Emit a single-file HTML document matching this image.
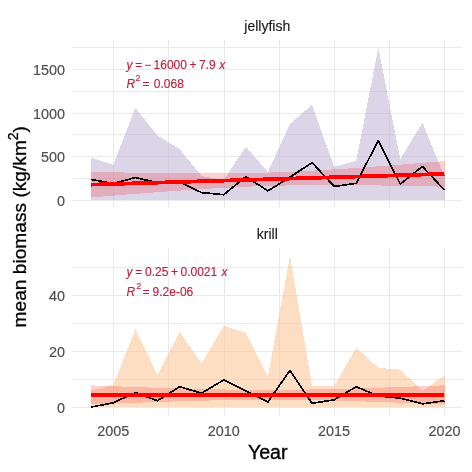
<!DOCTYPE html>
<html><head><meta charset="utf-8"><style>
html,body{margin:0;padding:0;background:#fff;width:472px;height:472px;overflow:hidden}
svg{display:block}
text{font-family:"Liberation Sans",sans-serif}
</style></head><body>
<svg style="will-change:transform" width="472" height="472" viewBox="0 0 472 472">
<rect width="472" height="472" fill="#fff"/>
<line x1="71.90" y1="178.50" x2="462.70" y2="178.50" stroke="#EAEAEA" stroke-width="1"/>
<line x1="71.90" y1="134.50" x2="462.70" y2="134.50" stroke="#EAEAEA" stroke-width="1"/>
<line x1="71.90" y1="91.50" x2="462.70" y2="91.50" stroke="#EAEAEA" stroke-width="1"/>
<line x1="71.90" y1="47.50" x2="462.70" y2="47.50" stroke="#EAEAEA" stroke-width="1"/>
<line x1="71.90" y1="200.50" x2="462.70" y2="200.50" stroke="#EAEAEA" stroke-width="1"/>
<line x1="71.90" y1="156.50" x2="462.70" y2="156.50" stroke="#EAEAEA" stroke-width="1"/>
<line x1="71.90" y1="113.50" x2="462.70" y2="113.50" stroke="#EAEAEA" stroke-width="1"/>
<line x1="71.90" y1="69.50" x2="462.70" y2="69.50" stroke="#EAEAEA" stroke-width="1"/>
<line x1="168.50" y1="39.85" x2="168.50" y2="207.70" stroke="#EAEAEA" stroke-width="1"/>
<line x1="279.50" y1="39.85" x2="279.50" y2="207.70" stroke="#EAEAEA" stroke-width="1"/>
<line x1="389.50" y1="39.85" x2="389.50" y2="207.70" stroke="#EAEAEA" stroke-width="1"/>
<line x1="113.50" y1="39.85" x2="113.50" y2="207.70" stroke="#EAEAEA" stroke-width="1"/>
<line x1="224.50" y1="39.85" x2="224.50" y2="207.70" stroke="#EAEAEA" stroke-width="1"/>
<line x1="334.50" y1="39.85" x2="334.50" y2="207.70" stroke="#EAEAEA" stroke-width="1"/>
<line x1="444.50" y1="39.85" x2="444.50" y2="207.70" stroke="#EAEAEA" stroke-width="1"/>
<polygon points="91.27,157.55 113.35,164.80 135.42,107.92 157.50,135.62 179.58,149.08 201.66,176.07 223.73,180.00 245.81,146.98 267.89,171.97 289.96,123.91 312.04,104.87 334.12,166.64 356.19,161.05 378.27,48.08 400.35,159.04 422.43,122.69 444.50,176.51 444.50,200.10 422.43,200.10 400.35,200.10 378.27,200.10 356.19,200.10 334.12,200.10 312.04,200.10 289.96,200.10 267.89,200.10 245.81,200.10 223.73,200.10 201.66,200.10 179.58,200.10 157.50,200.10 135.42,200.10 113.35,200.10 91.27,200.10" fill="#B9ABD1" fill-opacity="0.5" shape-rendering="crispEdges"/>
<polygon points="91.27,171.82 95.74,171.91 100.21,172.01 104.68,172.11 109.16,172.20 113.63,172.29 118.10,172.38 122.57,172.47 127.04,172.55 131.51,172.64 135.98,172.72 140.45,172.79 144.93,172.87 149.40,172.94 153.87,173.00 158.34,173.07 162.81,173.12 167.28,173.18 171.75,173.23 176.22,173.27 180.70,173.31 185.17,173.35 189.64,173.38 194.11,173.40 198.58,173.42 203.05,173.43 207.52,173.43 211.99,173.43 216.47,173.41 220.94,173.39 225.41,173.36 229.88,173.32 234.35,173.27 238.82,173.21 243.29,173.14 247.77,173.06 252.24,172.97 256.71,172.87 261.18,172.76 265.65,172.63 270.12,172.50 274.59,172.35 279.06,172.19 283.54,172.02 288.01,171.84 292.48,171.65 296.95,171.44 301.42,171.23 305.89,171.01 310.36,170.78 314.83,170.53 319.31,170.28 323.78,170.02 328.25,169.76 332.72,169.48 337.19,169.20 341.66,168.91 346.13,168.62 350.60,168.31 355.08,168.01 359.55,167.70 364.02,167.38 368.49,167.06 372.96,166.73 377.43,166.40 381.90,166.06 386.38,165.72 390.85,165.38 395.32,165.04 399.79,164.69 404.26,164.34 408.73,163.98 413.20,163.62 417.67,163.27 422.15,162.90 426.62,162.54 431.09,162.17 435.56,161.81 440.03,161.44 444.50,161.07 444.50,186.71 440.03,186.61 435.56,186.51 431.09,186.42 426.62,186.32 422.15,186.23 417.67,186.14 413.20,186.06 408.73,185.97 404.26,185.89 399.79,185.81 395.32,185.73 390.85,185.66 386.38,185.59 381.90,185.52 377.43,185.46 372.96,185.40 368.49,185.35 364.02,185.30 359.55,185.25 355.08,185.21 350.60,185.17 346.13,185.15 341.66,185.12 337.19,185.11 332.72,185.10 328.25,185.09 323.78,185.10 319.31,185.11 314.83,185.13 310.36,185.16 305.89,185.20 301.42,185.25 296.95,185.31 292.48,185.38 288.01,185.46 283.54,185.55 279.06,185.65 274.59,185.77 270.12,185.89 265.65,186.03 261.18,186.18 256.71,186.33 252.24,186.50 247.77,186.69 243.29,186.88 238.82,187.08 234.35,187.29 229.88,187.52 225.41,187.75 220.94,187.99 216.47,188.24 211.99,188.50 207.52,188.77 203.05,189.04 198.58,189.32 194.11,189.61 189.64,189.91 185.17,190.21 180.70,190.52 176.22,190.83 171.75,191.15 167.28,191.47 162.81,191.80 158.34,192.13 153.87,192.46 149.40,192.80 144.93,193.14 140.45,193.49 135.98,193.84 131.51,194.19 127.04,194.54 122.57,194.90 118.10,195.26 113.63,195.62 109.16,195.98 104.68,196.35 100.21,196.72 95.74,197.09 91.27,197.46" fill="#FF0000" fill-opacity="0.18" shape-rendering="crispEdges"/>
<polyline points="91.27,179.48 113.35,183.50 135.42,177.56 157.50,182.63 179.58,182.01 201.66,192.59 223.73,194.68 245.81,176.68 267.89,190.84 289.96,177.21 312.04,162.53 334.12,186.38 356.19,183.41 378.27,140.60 400.35,184.11 422.43,166.38 444.50,190.14" fill="none" stroke="#000" stroke-width="1.7" stroke-linejoin="round" shape-rendering="crispEdges"/>
<line x1="91.27" y1="184.64" x2="444.50" y2="173.89" stroke="#FF0000" stroke-width="3.8" shape-rendering="crispEdges"/>
<line x1="71.90" y1="379.50" x2="462.70" y2="379.50" stroke="#EAEAEA" stroke-width="1"/>
<line x1="71.90" y1="323.50" x2="462.70" y2="323.50" stroke="#EAEAEA" stroke-width="1"/>
<line x1="71.90" y1="267.50" x2="462.70" y2="267.50" stroke="#EAEAEA" stroke-width="1"/>
<line x1="71.90" y1="407.50" x2="462.70" y2="407.50" stroke="#EAEAEA" stroke-width="1"/>
<line x1="71.90" y1="351.50" x2="462.70" y2="351.50" stroke="#EAEAEA" stroke-width="1"/>
<line x1="71.90" y1="295.50" x2="462.70" y2="295.50" stroke="#EAEAEA" stroke-width="1"/>
<line x1="168.50" y1="247.70" x2="168.50" y2="415.60" stroke="#EAEAEA" stroke-width="1"/>
<line x1="279.50" y1="247.70" x2="279.50" y2="415.60" stroke="#EAEAEA" stroke-width="1"/>
<line x1="389.50" y1="247.70" x2="389.50" y2="415.60" stroke="#EAEAEA" stroke-width="1"/>
<line x1="113.50" y1="247.70" x2="113.50" y2="415.60" stroke="#EAEAEA" stroke-width="1"/>
<line x1="224.50" y1="247.70" x2="224.50" y2="415.60" stroke="#EAEAEA" stroke-width="1"/>
<line x1="334.50" y1="247.70" x2="334.50" y2="415.60" stroke="#EAEAEA" stroke-width="1"/>
<line x1="444.50" y1="247.70" x2="444.50" y2="415.60" stroke="#EAEAEA" stroke-width="1"/>
<polygon points="91.27,390.36 113.35,384.75 135.42,329.19 157.50,374.93 179.58,331.72 201.66,363.43 223.73,325.83 245.81,332.84 267.89,376.61 289.96,255.68 312.04,385.87 334.12,385.87 356.19,347.71 378.27,367.92 400.35,369.60 422.43,390.93 444.50,375.49 444.50,407.20 422.43,407.20 400.35,407.20 378.27,407.20 356.19,407.20 334.12,407.20 312.04,407.20 289.96,407.20 267.89,407.20 245.81,407.20 223.73,407.20 201.66,407.20 179.58,407.20 157.50,407.20 135.42,407.20 113.35,407.20 91.27,407.20" fill="#FBBD87" fill-opacity="0.5" shape-rendering="crispEdges"/>
<polygon points="91.27,385.39 95.74,385.56 100.21,385.73 104.68,385.90 109.16,386.07 113.63,386.24 118.10,386.41 122.57,386.57 127.04,386.73 131.51,386.89 135.98,387.05 140.45,387.21 144.93,387.36 149.40,387.52 153.87,387.67 158.34,387.81 162.81,387.96 167.28,388.10 171.75,388.23 176.22,388.37 180.70,388.50 185.17,388.62 189.64,388.74 194.11,388.86 198.58,388.97 203.05,389.08 207.52,389.18 211.99,389.28 216.47,389.37 220.94,389.45 225.41,389.53 229.88,389.60 234.35,389.66 238.82,389.72 243.29,389.77 247.77,389.81 252.24,389.84 256.71,389.86 261.18,389.88 265.65,389.89 270.12,389.88 274.59,389.87 279.06,389.86 283.54,389.83 288.01,389.79 292.48,389.75 296.95,389.70 301.42,389.64 305.89,389.58 310.36,389.50 314.83,389.43 319.31,389.34 323.78,389.25 328.25,389.15 332.72,389.04 337.19,388.93 341.66,388.82 346.13,388.70 350.60,388.58 355.08,388.45 359.55,388.32 364.02,388.18 368.49,388.04 372.96,387.90 377.43,387.75 381.90,387.60 386.38,387.45 390.85,387.30 395.32,387.14 399.79,386.98 404.26,386.82 408.73,386.66 413.20,386.49 417.67,386.33 422.15,386.16 426.62,385.99 431.09,385.82 435.56,385.64 440.03,385.47 444.50,385.29 444.50,404.32 440.03,404.15 435.56,403.97 431.09,403.80 426.62,403.63 422.15,403.47 417.67,403.30 413.20,403.14 408.73,402.97 404.26,402.81 399.79,402.65 395.32,402.50 390.85,402.34 386.38,402.19 381.90,402.04 377.43,401.90 372.96,401.75 368.49,401.61 364.02,401.47 359.55,401.34 355.08,401.21 350.60,401.09 346.13,400.96 341.66,400.85 337.19,400.74 332.72,400.63 328.25,400.53 323.78,400.43 319.31,400.34 314.83,400.26 310.36,400.18 305.89,400.11 301.42,400.05 296.95,399.99 292.48,399.94 288.01,399.90 283.54,399.87 279.06,399.85 274.59,399.83 270.12,399.82 265.65,399.82 261.18,399.83 256.71,399.85 252.24,399.88 247.77,399.91 243.29,399.96 238.82,400.01 234.35,400.06 229.88,400.13 225.41,400.20 220.94,400.28 216.47,400.37 211.99,400.46 207.52,400.56 203.05,400.66 198.58,400.77 194.11,400.89 189.64,401.01 185.17,401.13 180.70,401.26 176.22,401.39 171.75,401.53 167.28,401.67 162.81,401.81 158.34,401.95 153.87,402.10 149.40,402.25 144.93,402.41 140.45,402.57 135.98,402.72 131.51,402.89 127.04,403.05 122.57,403.21 118.10,403.38 113.63,403.55 109.16,403.72 104.68,403.89 100.21,404.06 95.74,404.24 91.27,404.41" fill="#FF0000" fill-opacity="0.18" shape-rendering="crispEdges"/>
<polyline points="91.27,407.06 113.35,402.71 135.42,392.61 157.50,400.75 179.58,386.72 201.66,393.17 223.73,379.98 245.81,390.93 267.89,402.01 289.96,370.44 312.04,403.27 334.12,399.90 356.19,386.72 378.27,395.98 400.35,398.22 422.43,403.83 444.50,400.75" fill="none" stroke="#000" stroke-width="1.7" stroke-linejoin="round" shape-rendering="crispEdges"/>
<line x1="91.27" y1="394.90" x2="444.50" y2="394.81" stroke="#FF0000" stroke-width="3.8" shape-rendering="crispEdges"/>
<text x="64.90" y="206.10" font-size="14.4" fill="#4D4D4D" stroke="#4D4D4D" stroke-width="0.15" text-anchor="end" >0</text>
<text x="64.90" y="162.41" font-size="14.4" fill="#4D4D4D" stroke="#4D4D4D" stroke-width="0.15" text-anchor="end" >500</text>
<text x="64.90" y="118.73" font-size="14.4" fill="#4D4D4D" stroke="#4D4D4D" stroke-width="0.15" text-anchor="end" >1000</text>
<text x="64.90" y="75.04" font-size="14.4" fill="#4D4D4D" stroke="#4D4D4D" stroke-width="0.15" text-anchor="end" >1500</text>
<text x="64.90" y="413.20" font-size="14.4" fill="#4D4D4D" stroke="#4D4D4D" stroke-width="0.15" text-anchor="end" >0</text>
<text x="64.90" y="357.08" font-size="14.4" fill="#4D4D4D" stroke="#4D4D4D" stroke-width="0.15" text-anchor="end" >20</text>
<text x="64.90" y="300.96" font-size="14.4" fill="#4D4D4D" stroke="#4D4D4D" stroke-width="0.15" text-anchor="end" >40</text>
<text x="113.35" y="435.60" font-size="14.4" fill="#4D4D4D" stroke="#4D4D4D" stroke-width="0.15" text-anchor="middle" >2005</text>
<text x="223.73" y="435.60" font-size="14.4" fill="#4D4D4D" stroke="#4D4D4D" stroke-width="0.15" text-anchor="middle" >2010</text>
<text x="334.12" y="435.60" font-size="14.4" fill="#4D4D4D" stroke="#4D4D4D" stroke-width="0.15" text-anchor="middle" >2015</text>
<text x="444.50" y="435.60" font-size="14.4" fill="#4D4D4D" stroke="#4D4D4D" stroke-width="0.15" text-anchor="middle" >2020</text>
<text x="267.30" y="30.80" font-size="14" fill="#1A1A1A" stroke="#1A1A1A" stroke-width="0.15" text-anchor="middle" >jellyfish</text>
<text x="267.30" y="238.90" font-size="14" fill="#1A1A1A" stroke="#1A1A1A" stroke-width="0.15" text-anchor="middle" >krill</text>
<text x="267.70" y="458.50" font-size="19.6" fill="#000" stroke="#000" stroke-width="0.15" text-anchor="middle" style="stroke-width:0.35">Year</text>
<text transform="translate(25.6,226.7) rotate(-90)" x="0" y="0" font-size="19.15" fill="#000" stroke="#000" stroke-width="0.3" text-anchor="middle">mean biomass (kg/km<tspan font-size="14" dy="-7.5">2</tspan><tspan dy="7.5">)</tspan></text>
<text font-size="12" fill="#BE1C3A" stroke="#BE1C3A" stroke-width="0.12"><tspan x="126.40" font-style="italic" y="69.00">y</tspan><tspan x="135.20" y="69.00">=</tspan><tspan x="144.20" y="69.00">−</tspan><tspan x="153.60" y="69.00">16000</tspan><tspan x="189.40" y="69.00">+</tspan><tspan x="198.90" y="69.00">7.9</tspan><tspan x="219.30" font-style="italic" y="69.00">x</tspan></text>
<text font-size="12" fill="#BE1C3A" stroke="#BE1C3A" stroke-width="0.12"><tspan x="126.40" font-style="italic" y="88.00">R</tspan><tspan x="135.40" font-size="9" y="81.00">2</tspan><tspan x="142.60" y="88.00">=</tspan><tspan x="153.80" y="88.00">0.068</tspan></text>
<text font-size="12" fill="#BE1C3A" stroke="#BE1C3A" stroke-width="0.12"><tspan x="126.40" font-style="italic" y="276.30">y</tspan><tspan x="135.20" y="276.30">=</tspan><tspan x="145.00" y="276.30">0.25</tspan><tspan x="171.00" y="276.30">+</tspan><tspan x="180.50" y="276.30">0.0021</tspan><tspan x="221.50" font-style="italic" y="276.30">x</tspan></text>
<text font-size="12" fill="#BE1C3A" stroke="#BE1C3A" stroke-width="0.12"><tspan x="126.40" font-style="italic" y="296.00">R</tspan><tspan x="136.20" font-size="9" y="289.00">2</tspan><tspan x="142.60" y="296.00">=</tspan><tspan x="152.60" y="296.00">9.2e-06</tspan></text>
</svg>
</body></html>
